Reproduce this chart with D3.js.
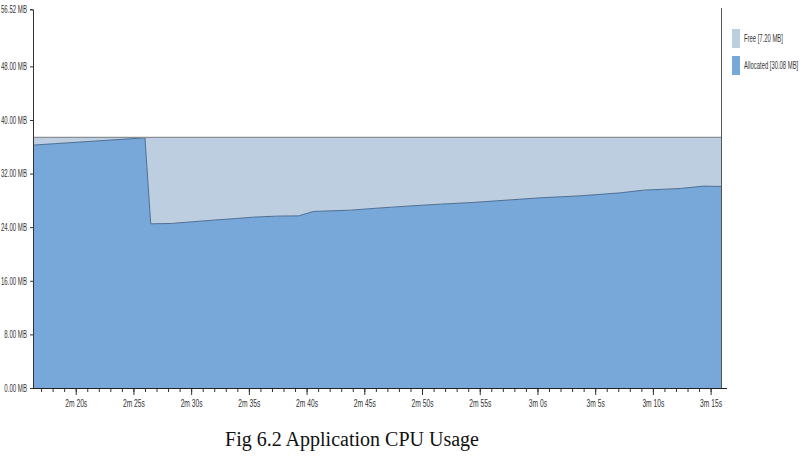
<!DOCTYPE html>
<html>
<head>
<meta charset="utf-8">
<script src="https://cdn.jsdelivr.net/npm/d3@7"></script>
<style>
  body { margin: 0; background: #fff; }
  .axis text { font-family: "Liberation Sans", Arial, sans-serif; font-size: 10.5px; fill: #333; }
  .legend text { font-family: "Liberation Sans", Arial, sans-serif; font-size: 10.5px; fill: #333; }
</style>
</head>
<body>
<div class="container"></div>
<script>
const WIDTH = 808;
const HEIGHT = 470;

// seconds since start
var times = [136.3, 146.0, 146.5, 148.3, 151.9, 153.95, 155.4, 157.4, 159.3, 160.6, 163.8, 165.8,
             168.7, 171.6, 174.4, 177.35, 180.2, 183.7, 187.2, 189.2, 192.4, 194.4, 195.9];
var allocated = [36.25, 37.34, 24.5, 24.56, 25.05, 25.3, 25.5, 25.65, 25.69, 26.35, 26.54, 26.8,
                 27.14, 27.44, 27.69, 28.04, 28.38, 28.68, 29.13, 29.53, 29.78, 30.13, 30.08];
var heapSize = 37.4;
var yTicks = [0, 8, 16, 24, 32, 40, 48, 56.52];
var xTicks = [140, 145, 150, 155, 160, 165, 170, 175, 180, 185, 190, 195];
var legendLabels = ["Free [7.20 MB]", "Allocated [30.08 MB]"];

var data = times.map(function(t, i){ return {t: t, a: allocated[i]}; });

var x = d3.scaleLinear().domain([136.3, 195.9]).range([33, 721]);
var y = d3.scaleLinear().domain([0, 56.52]).range([388, 9.3]);

var svg = d3.select('.container')
    .append('svg')
    .attr("width", WIDTH)
    .attr("height", HEIGHT);

// squeeze a text to look like a narrow font
var condense = function(sel, k){
    sel.each(function(){
        var w = this.getComputedTextLength();
        d3.select(this).attr("textLength", w * k).attr("lengthAdjust", "spacingAndGlyphs");
    });
};

// free area (between allocated and heap size)
svg.append("path")
    .datum(data)
    .attr("fill", "#bccee0")
    .attr("d", d3.area().x(function(d){ return x(d.t); }).y0(function(d){ return y(d.a); }).y1(y(heapSize)));

// allocated area
svg.append("path")
    .datum(data)
    .attr("fill", "#77a8d9")
    .attr("d", d3.area().x(function(d){ return x(d.t); }).y0(y(0)).y1(function(d){ return y(d.a); }));

svg.append("path")
    .datum(data)
    .attr("fill", "none")
    .attr("stroke", "#4f6f92")
    .attr("stroke-width", 1)
    .attr("d", d3.line().x(function(d){ return x(d.t); }).y(function(d){ return y(d.a); }));

svg.append("line")
    .attr("x1", x(136.3)).attr("x2", x(195.9))
    .attr("y1", y(heapSize)).attr("y2", y(heapSize))
    .attr("stroke", "#8a8f96").attr("stroke-width", 1.2);

// x axis: minor ticks every second
svg.append("g")
    .attr("class", "axis")
    .attr("transform", "translate(0,388)")
    .call(d3.axisBottom(x).tickValues(d3.range(137, 196)).tickSize(4).tickFormat(""))
    .call(function(g){ g.select(".domain").remove(); g.selectAll("line").attr("stroke", "#333"); });

svg.append("g")
    .attr("class", "axis")
    .attr("transform", "translate(0,388)")
    .call(d3.axisBottom(x).tickValues(xTicks).tickSize(7).tickPadding(5)
        .tickFormat(function(d){ return Math.floor(d / 60) + "m " + (d % 60) + "s"; }))
    .call(function(g){
        g.select(".domain").remove();
        g.selectAll("line").attr("stroke", "#333");
        condense(g.selectAll("text"), 0.64);
    });

svg.append("line")
    .attr("x1", 33).attr("x2", 727).attr("y1", 388.5).attr("y2", 388.5)
    .attr("stroke", "#222").attr("stroke-width", 1.2);

// y axis
svg.append("g")
    .attr("class", "axis")
    .attr("transform", "translate(33,0)")
    .call(d3.axisLeft(y).tickValues(yTicks).tickSize(3).tickPadding(3)
        .tickFormat(function(d){ return d3.format(".2f")(d) + " MB"; }))
    .call(function(g){
        g.select(".domain").attr("stroke", "#333");
        g.selectAll("line").attr("stroke", "#333");
        condense(g.selectAll("text"), 0.58);
    });

// right border of plot / legend separator
svg.append("line")
    .attr("x1", 721.5).attr("x2", 721.5).attr("y1", 8).attr("y2", 388)
    .attr("stroke", "#555").attr("stroke-width", 1);

var legend = svg.append("g").attr("class", "legend");
var legendColors = ["#bccee0", "#77a8d9"];
legend.selectAll("rect")
    .data(legendLabels)
    .enter().append("rect")
    .attr("x", 732)
    .attr("y", function(d, i){ return 29 + i * 27; })
    .attr("width", 8)
    .attr("height", 19)
    .attr("fill", function(d, i){ return legendColors[i]; });
legend.selectAll("text")
    .data(legendLabels)
    .enter().append("text")
    .attr("transform", function(d, i){ return "translate(744," + (42 + i * 27) + ") scale(0.56,1)"; })
    .text(function(d){ return d; });

svg.append("text")
    .attr("x", 352)
    .attr("y", 446)
    .attr("text-anchor", "middle")
    .attr("font-family", "Liberation Serif, serif")
    .attr("font-size", 20)
    .attr("fill", "#111")
    .text("Fig 6.2 Application CPU Usage");
</script>
</body>
</html>
